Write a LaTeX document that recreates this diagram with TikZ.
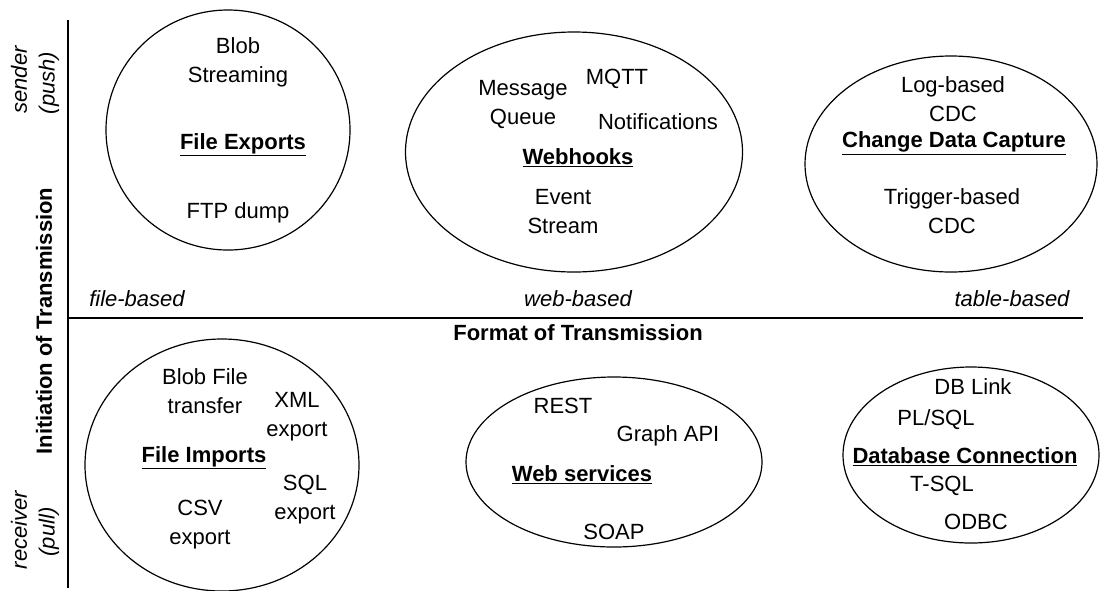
\documentclass[tikz,border=0pt]{standalone}
\usepackage{fontspec}
\setmainfont{Liberation Sans}
\usetikzlibrary{shapes.geometric}
\tikzset{
  ell/.style={draw, ellipse, line width=1.2pt, inner sep=0pt, outer sep=0pt},
  txt/.style={align=center, inner sep=0pt, font=\fontsize{22}{29}\selectfont},
  ttl/.style={align=center, inner sep=0pt, font=\fontsize{22}{29}\selectfont\bfseries},
  lab/.style={align=center, inner sep=0pt, font=\fontsize{22}{29}\selectfont\itshape},
  axis/.style={line width=1.6pt}
}
\begin{document}
\begin{tikzpicture}[x=1pt,y=-1pt]
\useasboundingbox (0,0) rectangle (1102,590);
% axes
\coordinate (vt) at (68,20);
\coordinate (vb) at (68,588);
\coordinate (hl) at (68,318);
\coordinate (hr) at (1083,318);
\draw[axis] (vt) -- (vb);
\draw[axis] (hl) -- (hr);
% axis labels
\node[ttl, rotate=90] (init) at (44,321) {Initiation of Transmission};
\node[lab, rotate=90] (snd) at (19,80) {sender};
\node[lab, rotate=90] (psh) at (49,83) {(push)};
\node[lab, rotate=90] (rcv) at (19,530) {receiver};
\node[lab, rotate=90] (pll) at (49,532) {(pull)};
\node[lab] (fb) at (137,299) {file-based};
\node[lab] (wb) at (578,299) {web-based};
\node[lab] (tb) at (1012,299) {table-based};
\node[ttl] (fmt) at (578,333) {Format of Transmission};
% ellipses
\node[ell, minimum width=244pt, minimum height=240pt] (e1) at (228,130) {};
\node[ell, minimum width=337pt, minimum height=240pt] (e2) at (574,152) {};
\node[ell, minimum width=292pt, minimum height=216pt] (e3) at (951,164) {};
\node[ell, minimum width=274pt, minimum height=252pt] (e4) at (222,465) {};
\node[ell, minimum width=296pt, minimum height=170pt] (e5) at (614,462) {};
\node[ell, minimum width=256pt, minimum height=176pt] (e6) at (971,455) {};
% File Exports
\node[txt] (blob) at (238,62) {Blob\\Streaming};
\node[ttl] (fe) at (243,145) {\underline{File Exports}};
\node[txt] (ftp) at (238,213) {FTP dump};
% Webhooks
\node[txt] (mq) at (523,105) {Message\\Queue};
\node[txt] (mqtt) at (617,79) {MQTT};
\node[txt] (notif) at (658,122) {Notifications};
\node[ttl] (wh) at (578,158) {\underline{Webhooks}};
\node[txt] (ev) at (563,212) {Event\\Stream};
% CDC
\node[txt] (log) at (953,99) {Log-based\\CDC};
\node[ttl] (cdc) at (954,143) {\underline{Change Data Capture}};
\node[txt] (trg) at (952,211) {Trigger-based\\CDC};
% File Imports
\node[txt] (bft) at (205,391) {Blob File\\transfer};
\node[txt] (xml) at (297,417) {XML\\export};
\node[ttl] (fi) at (204,458) {\underline{File Imports}};
\node[txt] (sql) at (305,500) {SQL\\export};
\node[txt] (csv) at (200,525) {CSV\\export};
% Web services
\node[txt] (rest) at (563,406) {REST};
\node[txt] (gapi) at (668,436) {Graph API};
\node[ttl] (ws) at (582,475) {\underline{Web services}};
\node[txt] (soap) at (614,532) {SOAP};
% Database Connection
\node[txt] (dbl) at (973,387) {DB Link};
\node[txt] (plsql) at (936,420) {PL/SQL};
\node[ttl] (dbc) at (965,457) {\underline{Database Connection}};
\node[txt] (tsql) at (942,486) {T-SQL};
\node[txt] (odbc) at (976,522) {ODBC};
\end{tikzpicture}
\end{document}
